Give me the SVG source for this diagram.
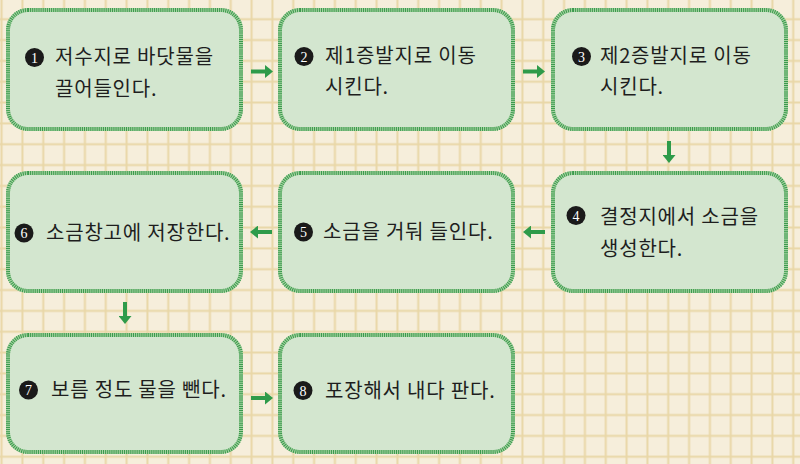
<svg xmlns="http://www.w3.org/2000/svg" width="800" height="464" viewBox="0 0 800 464">
<defs>
<pattern id="grid" patternUnits="userSpaceOnUse" x="-8.8" y="-12" width="20.833" height="20.833">
<rect x="9.4" y="0" width="2" height="20.833" fill="#e9d7a7"/>
<rect x="0" y="9.4" width="20.833" height="2" fill="#e9d7a7"/>
</pattern>
<marker id="ah" markerUnits="userSpaceOnUse" markerWidth="8" markerHeight="13" refX="1" refY="6.5" orient="auto">
<path d="M0,0 L8,6.5 L0,13 z" fill="#2e9b4a"/>
</marker>
</defs>
<style>
.box{fill:#d3e6cf;stroke:#a6d2a2;stroke-width:4}
.hatch{fill:none;stroke:#3a9a4c;stroke-width:4;stroke-dasharray:1 1.1}
.t{font-family:"Noto Sans CJK KR","Noto Sans",sans-serif;font-size:20px;letter-spacing:0.8px;fill:#1e1e1e}
.nc{fill:#1a1a1a}
.n{font-family:"Liberation Serif",serif;font-size:14px;fill:#ffffff;text-anchor:middle}
.c{stroke:#2e9b4a;stroke-width:4;fill:none;marker-end:url(#ah)}
</style>
<rect width="800" height="464" fill="#f6eedb"/>
<rect width="800" height="464" fill="url(#grid)"/>

<g id="connectors">
<line class="c" x1="251" y1="71.5" x2="266" y2="71.5"/>
<line class="c" x1="523" y1="71.5" x2="538" y2="71.5"/>
<line class="c" x1="669" y1="141" x2="669" y2="156"/>
<line class="c" x1="545" y1="232" x2="530" y2="232"/>
<line class="c" x1="272" y1="232" x2="257" y2="232"/>
<line class="c" x1="125" y1="302" x2="125" y2="317"/>
<line class="c" x1="251" y1="398" x2="266" y2="398"/>
</g>

<g id="node1">
<rect class="box" x="8" y="10" width="233" height="119" rx="20"/>
<rect class="hatch" x="8" y="10" width="233" height="119" rx="20"/>
<circle class="nc" cx="34.5" cy="57.5" r="9.5"/>
<text class="n" x="34.5" y="62.5">1</text>
<text class="t" x="55" y="64">저수지로 바닷물을</text>
<text class="t" x="55" y="96">끌어들인다.</text>
</g>

<g id="node2">
<rect class="box" x="280" y="10" width="233" height="119" rx="20"/>
<rect class="hatch" x="280" y="10" width="233" height="119" rx="20"/>
<circle class="nc" cx="304" cy="56.5" r="9.5"/>
<text class="n" x="304" y="61.5">2</text>
<text class="t" x="325" y="63">제1증발지로 이동</text>
<text class="t" x="325" y="94">시킨다.</text>
</g>

<g id="node3">
<rect class="box" x="553" y="10" width="233" height="119" rx="20"/>
<rect class="hatch" x="553" y="10" width="233" height="119" rx="20"/>
<circle class="nc" cx="581.5" cy="56.5" r="9.5"/>
<text class="n" x="581.5" y="61.5">3</text>
<text class="t" x="600" y="63">제2증발지로 이동</text>
<text class="t" x="600" y="94">시킨다.</text>
</g>

<g id="node4">
<rect class="box" x="553" y="173" width="233" height="118" rx="20"/>
<rect class="hatch" x="553" y="173" width="233" height="118" rx="20"/>
<circle class="nc" cx="576" cy="215.5" r="9.5"/>
<text class="n" x="576" y="220.5">4</text>
<text class="t" x="600" y="224">결정지에서 소금을</text>
<text class="t" x="600" y="256">생성한다.</text>
</g>

<g id="node5">
<rect class="box" x="280" y="173" width="233" height="118" rx="20"/>
<rect class="hatch" x="280" y="173" width="233" height="118" rx="20"/>
<circle class="nc" cx="303.5" cy="232" r="9.5"/>
<text class="n" x="303.5" y="237">5</text>
<text class="t" x="323" y="239">소금을 거둬 들인다.</text>
</g>

<g id="node6">
<rect class="box" x="8" y="173" width="233" height="118" rx="20"/>
<rect class="hatch" x="8" y="173" width="233" height="118" rx="20"/>
<circle class="nc" cx="24" cy="233" r="9.5"/>
<text class="n" x="24" y="238">6</text>
<text class="t" x="46" y="240">소금창고에 저장한다.</text>
</g>

<g id="node7">
<rect class="box" x="8" y="335" width="233" height="117" rx="20"/>
<rect class="hatch" x="8" y="335" width="233" height="117" rx="20"/>
<circle class="nc" cx="28.5" cy="390" r="9.5"/>
<text class="n" x="28.5" y="395">7</text>
<text class="t" x="51" y="397">보름 정도 물을 뺀다.</text>
</g>

<g id="node8">
<rect class="box" x="280" y="335" width="233" height="117" rx="20"/>
<rect class="hatch" x="280" y="335" width="233" height="117" rx="20"/>
<circle class="nc" cx="303" cy="390.5" r="9.5"/>
<text class="n" x="303" y="395.5">8</text>
<text class="t" x="325" y="398">포장해서 내다 판다.</text>
</g>
</svg>
